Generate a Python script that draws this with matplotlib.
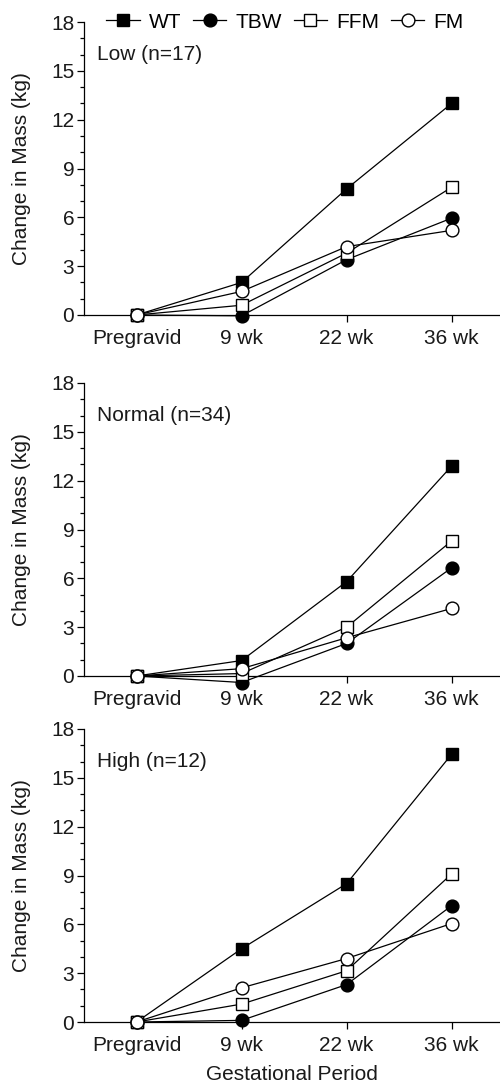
import matplotlib
matplotlib.use("Agg")
import matplotlib.pyplot as plt
from matplotlib.ticker import MultipleLocator
from matplotlib.lines import Line2D

plt.rcParams['font.family'] = ['Liberation Sans', 'DejaVu Sans']

categories = ["Pregravid", "9 wk", "22 wk", "36 wk"]
series_names = ["WT", "TBW", "FFM", "FM"]
panel_titles = ["Low (n=17)", "Normal (n=34)", "High (n=12)"]

low_wt = [0, 2.0, 7.75, 13.0]
low_tbw = [0, -0.05, 3.4, 5.95]
low_ffm = [0, 0.6, 3.8, 7.85]
low_fm = [0, 1.45, 4.2, 5.2]

normal_wt = [0, 0.95, 5.8, 12.9]
normal_tbw = [0, -0.4, 2.0, 6.65]
normal_ffm = [0, 0.15, 3.0, 8.3]
normal_fm = [0, 0.45, 2.35, 4.15]

high_wt = [0, 4.5, 8.5, 16.45]
high_tbw = [0, 0.1, 2.3, 7.15]
high_ffm = [0, 1.1, 3.15, 9.1]
high_fm = [0, 2.1, 3.9, 6.05]

panels = [
    [low_wt, low_tbw, low_ffm, low_fm],
    [normal_wt, normal_tbw, normal_ffm, normal_fm],
    [high_wt, high_tbw, high_ffm, high_fm],
]

styles = [
    dict(marker='s', mfc='black', mec='black'),
    dict(marker='o', mfc='black', mec='black'),
    dict(marker='s', mfc='white', mec='black'),
    dict(marker='o', mfc='white', mec='black'),
]

W, H = 500, 1083
fig = plt.figure(figsize=(W / 100, H / 100), dpi=100)

ymin = -0.7
ppu = 293 / 18.0  # pixels per unit
top_px = [22, 383, 729]
left_px = 84
FS = 15

x = list(range(len(categories)))

for i, (tp, data, title) in enumerate(zip(top_px, panels, panel_titles)):
    zero_px = tp + 18 * ppu
    bottom_px = zero_px - ymin * ppu
    h = bottom_px - tp
    ax = fig.add_axes([left_px / W, 1 - bottom_px / H, (W - left_px) / W, h / H])
    for vals, st, name in zip(data, styles, series_names):
        ax.plot(x, vals, color='black', lw=0.9, ms=9.2, mew=1.0, label=name,
                zorder=3, clip_on=False, **st)
    ax.set_xlim(-0.5, 3.46)
    ax.set_ylim(ymin, 18)
    ax.spines['top'].set_visible(False)
    ax.spines['right'].set_visible(False)
    ax.spines['bottom'].set_position(('data', 0))
    ax.spines['left'].set_bounds(0, 18)
    for s in ('left', 'bottom'):
        ax.spines[s].set_linewidth(0.9)
    ax.yaxis.set_major_locator(MultipleLocator(3))
    ax.yaxis.set_minor_locator(MultipleLocator(1))
    ax.set_yticks(range(0, 19, 3))
    ax.set_xticks(x)
    ax.set_xticklabels(categories)
    ax.tick_params(axis='both', which='major', labelsize=FS, width=0.9, length=5,
                   color='black', labelcolor='#1a1a1a')
    ax.tick_params(axis='y', which='minor', length=3, width=0.9)
    ax.tick_params(axis='x', which='major', pad=5)
    ax.tick_params(axis='y', which='major', pad=2)
    ax.set_ylabel("Change in Mass (kg)", fontsize=FS, color='#1a1a1a')
    ax.yaxis.set_label_coords(-0.127, (9 - ymin) / (18 - ymin))
    ax.text(-0.38, 16.0, title, fontsize=FS, va='center', ha='left', color='#1a1a1a')
    ax.patch.set_alpha(0)
    if i == 0:
        handles = [Line2D([], [], color='black', lw=0.9, ms=9.2, mew=1.0, **st)
                   for st in styles]
        ax.legend(handles, series_names, loc='center left', frameon=False,
                  ncol=4, fontsize=FS, handlelength=1.6, handletextpad=0.45,
                  columnspacing=0.55, borderaxespad=0,
                  bbox_to_anchor=(98 / W, 1 - 22 / H),
                  bbox_transform=fig.transFigure)
    if i == 2:
        ax.set_xlabel("Gestational Period", fontsize=FS, color='#1a1a1a', labelpad=7)

fig.savefig("out.png", dpi=100)
